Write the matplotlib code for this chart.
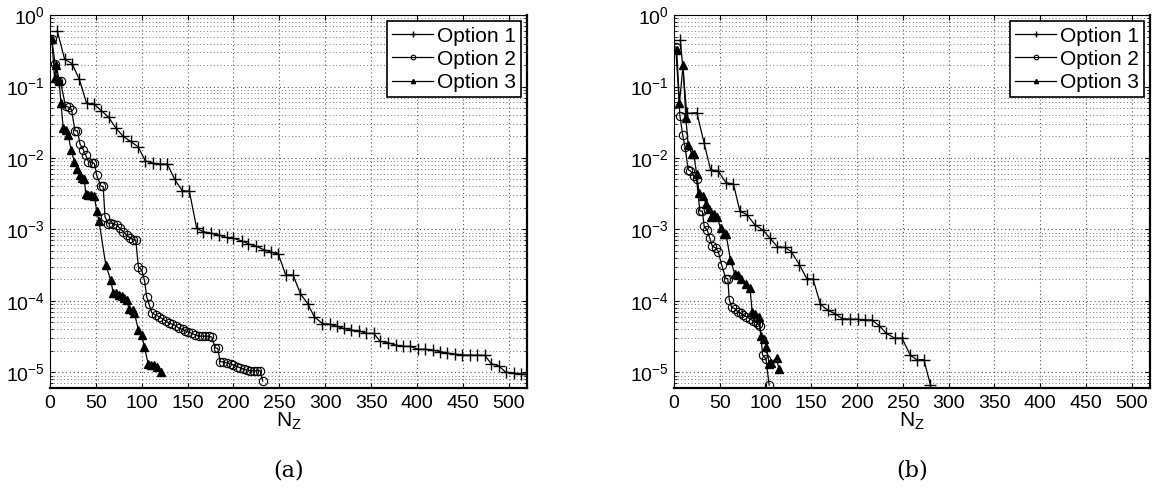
import matplotlib
matplotlib.use('Agg')
import matplotlib.pyplot as plt
import numpy as np

plt.rcParams['font.family'] = ['Liberation Sans', 'DejaVu Sans']
plt.rcParams['mathtext.default'] = 'regular'

# ---- panel (a) ----
a1_x = [8, 16, 24, 32, 40, 48, 56, 64, 72, 80, 88, 96, 104, 112, 120, 128, 136, 144, 152,
        160, 167, 176, 184, 193, 200, 209, 216, 225, 233, 241, 249, 257, 265, 273, 281, 288,
        297, 305, 313, 320, 328, 337, 345, 353, 360, 368, 377, 385, 393, 401, 409, 417, 425,
        433, 441, 449, 458, 466, 474, 481, 489, 497, 506, 514, 521]
a1_y = [0.6, 0.24, 0.21, 0.126, 0.058, 0.057, 0.046, 0.037, 0.026, 0.020, 0.017, 0.0144,
        0.0091, 0.0085, 0.0082, 0.0082, 0.005, 0.0035, 0.0034,
        1.03e-3, 9.3e-4, 8.8e-4, 8.3e-4, 7.7e-4, 7.5e-4, 6.9e-4, 6.3e-4, 5.8e-4, 5.2e-4,
        4.8e-4, 4.5e-4, 2.3e-4, 2.3e-4, 1.26e-4, 9.1e-5, 6.0e-5,
        4.8e-5, 4.7e-5, 4.4e-5, 4.1e-5, 3.9e-5, 3.8e-5, 3.5e-5, 3.5e-5, 2.7e-5, 2.6e-5,
        2.4e-5, 2.3e-5, 2.3e-5, 2.1e-5, 2.1e-5, 2.05e-5, 1.95e-5, 1.86e-5, 1.8e-5, 1.75e-5,
        1.73e-5, 1.73e-5, 1.72e-5, 1.32e-5, 1.23e-5, 1.0e-5, 9.7e-6, 9.5e-6, 9.3e-6]

a2_x = [2, 5.5, 9, 11.5, 17, 21, 23.6, 27.3, 30, 32.8, 36.4, 38.9, 41.9, 45.4, 48.4, 51,
        55.7, 58, 60, 63.7, 65.5, 69, 72.8, 76.4, 80, 83.7, 87.3, 91, 93.5, 96.4, 100, 103,
        105.5, 108, 111, 115.3, 119, 122.6, 126.3, 130, 133.5, 137, 140.8, 144.5, 147.4, 151,
        154.6, 158, 162, 165.6, 169, 173, 176.5, 180, 183, 185.6, 189, 193, 197, 200, 204,
        207.7, 211.3, 215, 218.5, 222, 225.5, 229, 232]
a2_y = [0.46, 0.21, 0.12, 0.118, 0.053, 0.051, 0.047, 0.024, 0.024, 0.0156, 0.013, 0.011,
        0.0089, 0.0086, 0.0084, 0.0057, 0.0040, 0.0040, 0.0015, 0.0012, 1.23e-3, 1.2e-3,
        1.15e-3, 1.03e-3, 9.3e-4, 8.3e-4, 7.5e-4, 7.2e-4, 7.1e-4, 3.0e-4, 2.7e-4, 1.95e-4,
        1.13e-4, 9.0e-5, 6.8e-5, 6.3e-5, 6.0e-5, 5.6e-5, 5.2e-5, 4.9e-5, 4.7e-5, 4.5e-5,
        4.1e-5, 4.0e-5, 3.8e-5, 3.7e-5, 3.5e-5, 3.35e-5, 3.2e-5, 3.2e-5, 3.2e-5, 3.2e-5,
        3.1e-5, 2.2e-5, 2.15e-5, 1.4e-5, 1.4e-5, 1.35e-5, 1.3e-5, 1.26e-5, 1.2e-5, 1.15e-5,
        1.1e-5, 1.07e-5, 1.05e-5, 1.05e-5, 1.05e-5, 1.05e-5, 7.5e-6]

a3_x = [2, 5, 7, 10, 12, 14.5, 18, 20, 23, 26.6, 29.8, 32.8, 35, 37.5, 39, 41.9, 44.5,
        48.4, 51, 53.5, 60.8, 66.2, 69, 72, 75, 78, 81, 83.7, 86, 90, 92, 96.4, 100, 103,
        107, 110, 113.6, 117, 121]
a3_y = [0.47, 0.13, 0.2, 0.12, 0.058, 0.026, 0.025, 0.021, 0.0129, 0.0089, 0.0071, 0.0057,
        0.0053, 0.0051, 0.0031, 0.003, 0.003, 0.0029, 0.0018, 0.0013, 3.2e-4, 1.95e-4,
        1.29e-4, 1.27e-4, 1.2e-4, 1.16e-4, 1.1e-4, 1.04e-4, 7.8e-5, 7.4e-5, 6.8e-5, 3.9e-5,
        3.3e-5, 2.25e-5, 1.32e-5, 1.25e-5, 1.25e-5, 1.2e-5, 1.0e-5]

# ---- panel (b) ----
b1_x = [7, 14, 25, 33, 40, 48, 57, 65, 72, 80, 88, 97, 105, 113, 121, 128, 137, 145, 152,
        160, 168, 176, 184, 192, 201, 209, 216, 224, 232, 241, 249, 258, 265, 273, 280]
b1_y = [0.45, 0.042, 0.043, 0.016, 0.0068, 0.0066, 0.0045, 0.0043, 0.0018, 0.0016, 0.00117,
        9.8e-4, 7.5e-4, 5.7e-4, 5.6e-4, 4.9e-4, 3.2e-4, 2.05e-4, 2.0e-4, 8.9e-5, 7.4e-5,
        6.6e-5, 5.6e-5, 5.55e-5, 5.5e-5, 5.4e-5, 5.4e-5, 4.5e-5, 3.5e-5, 3.0e-5, 3.0e-5,
        1.74e-5, 1.5e-5, 1.5e-5, 6.7e-6]

b2_x = [2, 6.5, 9.5, 12, 15.6, 18, 21.8, 24.7, 28.3, 31, 33, 36.3, 39.2, 42, 45.6, 48.4,
        52, 56.6, 58.8, 60.4, 63, 66.5, 70, 73, 75.6, 79, 82.8, 86, 89.5, 92, 94, 96.8,
        100.4, 104]
b2_y = [0.36, 0.039, 0.021, 0.0144, 0.0068, 0.0066, 0.0055, 0.005, 0.0018, 0.0018, 0.0011,
        9.8e-4, 7.5e-4, 5.8e-4, 5.5e-4, 4.9e-4, 3.2e-4, 2.05e-4, 2.05e-4, 1.04e-4, 8.1e-5,
        7.8e-5, 6.9e-5, 6.7e-5, 6.3e-5, 6.0e-5, 5.6e-5, 5.3e-5, 5.0e-5, 4.7e-5, 4.5e-5,
        1.74e-5, 1.55e-5, 6.6e-6]

b3_x = [3, 6, 10, 13, 15.6, 19.3, 21.8, 24.7, 27.6, 31.3, 34.9, 38.5, 41, 43.6, 47.2, 50.9,
        54.5, 57, 61.7, 66.4, 70, 73.6, 79, 83, 85.5, 89, 92.4, 95, 98, 101, 104, 106.5,
        112, 114.6]
b3_y = [0.32, 0.059, 0.2, 0.036, 0.015, 0.0115, 0.0113, 0.006, 0.0032, 0.0029, 0.0023,
        0.0019, 0.0015, 0.00166, 0.0015, 0.00103, 8.5e-4, 8.5e-4, 3.7e-4, 2.4e-4, 2.3e-4,
        2.05e-4, 1.74e-4, 1.52e-4, 6.9e-5, 6.5e-5, 5.9e-5, 3.2e-5, 2.9e-5, 2.25e-5, 1.32e-5,
        1.35e-5, 1.6e-5, 1.1e-5]

labels = ['Option 1', 'Option 2', 'Option 3']
x_ticks = np.arange(0, 501, 50)

fig = plt.figure(figsize=(11.59, 4.95), dpi=100)
ax_a = fig.add_axes([0.0431, 0.216, 0.4116, 0.7535])
ax_b = fig.add_axes([0.5815, 0.216, 0.4108, 0.7535])

panels = [(ax_a, [(a1_x, a1_y), (a2_x, a2_y), (a3_x, a3_y)], '(a)'),
          (ax_b, [(b1_x, b1_y), (b2_x, b2_y), (b3_x, b3_y)], '(b)')]

grid_ls = (0, (1, 2.5))

for ax, series, cap in panels:
    (x1, y1), (x2, y2), (x3, y3) = series
    ax.plot(x1, y1, '-', color='black', lw=0.9, marker='+', ms=9, mew=1.0, label=labels[0])
    ax.plot(x2, y2, '-', color='black', lw=0.9, marker='o', ms=6, mfc='none', mew=0.8,
            label=labels[1])
    ax.plot(x3, y3, '-', color='black', lw=0.9, marker='^', ms=5.5, mfc='black', label=labels[2])
    ax.set_yscale('log')
    ax.set_ylim(6e-6, 1)
    ax.set_xlim(0, 520)
    ax.set_xticks(x_ticks)
    ax.set_yticks([1e-5, 1e-4, 1e-3, 1e-2, 1e-1, 1])
    ax.tick_params(which='both', direction='in', top=True, right=True, labelsize=14)
    ax.tick_params(axis='x', which='minor', bottom=False, top=False)
    ax.tick_params(axis='x', pad=5)
    ax.grid(True, which='major', linestyle=grid_ls, color='#555555', lw=0.8)
    ax.grid(True, which='minor', axis='y', linestyle=grid_ls, color='#777777', lw=0.7)
    for s in ['top', 'left']:
        ax.spines[s].set_linewidth(0.8)
    for s in ['bottom', 'right']:
        ax.spines[s].set_linewidth(1.6)
    ax.set_xlabel(r'$N_Z$', fontsize=15, labelpad=-1)
    leg = ax.legend(loc='upper right', fontsize=15, handlelength=2.0, handletextpad=0.15,
                    borderpad=0.25, labelspacing=0.2, borderaxespad=0.3, markerscale=0.55,
                    fancybox=False, framealpha=1)
    leg.get_frame().set_edgecolor('black')
    leg.get_frame().set_linewidth(1.2)
    pos = ax.get_position()
    fig.text(pos.x0 + pos.width * 0.5, 0.05, cap, ha='center', va='center',
             family='DejaVu Serif', fontsize=16)

fig.savefig('out.png', dpi=100)
